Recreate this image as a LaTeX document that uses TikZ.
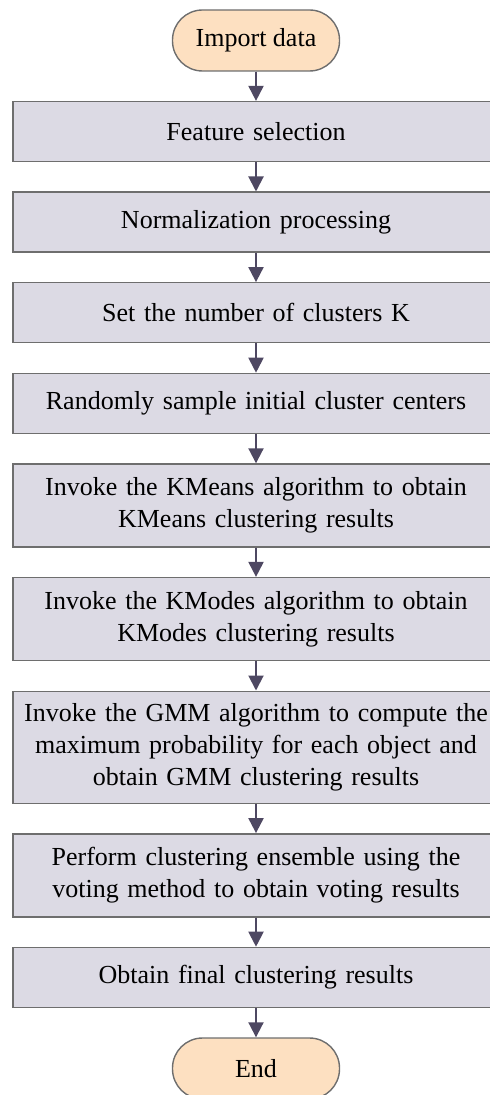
\documentclass[tikz,border=0pt]{standalone}
\usepackage{fontspec}
\setmainfont{Liberation Serif}
\usetikzlibrary{shapes.geometric, arrows.meta, positioning}

\definecolor{boxfill}{HTML}{DCDAE4}
\definecolor{termfill}{HTML}{FDE0C1}
\definecolor{edgegray}{HTML}{6E6E6E}
\definecolor{arrowcol}{HTML}{4E4862}

\begin{document}
\begin{tikzpicture}[node distance=14.6pt, auto,
    >={Triangle[width=7.5pt,length=7.5pt]},
    every node/.style={font=\fontsize{13}{16}\selectfont},
    process/.style={draw=edgegray, line width=0.7pt, fill=boxfill, rectangle,
        text width=240pt, inner xsep=1.5pt, inner ysep=1pt, align=center, minimum height=30pt},
    terminal/.style={draw=edgegray, line width=0.7pt, fill=termfill, rectangle,
        rounded corners=15pt, minimum width=83.5pt, minimum height=30.5pt},
    flow/.style={->, draw=arrowcol, fill=arrowcol, line width=1pt}]
    \useasboundingbox (0,0) rectangle (244.5pt,-547.5pt);

    % Start and main steps
    \node [terminal] (start) at (128pt,-20.25pt) {Import data};
    \node [process, below=of start] (feat) {Feature selection};
    \node [process, below=of feat] (norm) {Normalization processing};
    \node [process, below=of norm] (setk) {Set the number of clusters K};
    \node [process, below=of setk] (init) {Randomly sample initial cluster centers};
    \node [process, below=of init, minimum height=41.5pt] (kmeans)
        {Invoke the KMeans algorithm to obtain\\KMeans clustering results};
    \node [process, below=of kmeans, minimum height=41.5pt] (kmodes)
        {Invoke the KModes algorithm to obtain\\KModes clustering results};
    \node [process, below=of kmodes, minimum height=56pt] (gmm)
        {Invoke the GMM algorithm to compute the\\maximum probability for each object and\\obtain GMM clustering results};
    \node [process, below=of gmm, minimum height=41.5pt] (vote)
        {Perform clustering ensemble using the\\voting method to obtain voting results};
    \node [process, below=of vote] (final) {Obtain final clustering results};
    \node [terminal, below=of final] (stop) {End};

    % Straight flow connections
    \foreach \a/\b in {start/feat, feat/norm, norm/setk, setk/init, init/kmeans,
        kmeans/kmodes, kmodes/gmm, gmm/vote, vote/final, final/stop}
        \draw[flow] (\a) -- (\b);
\end{tikzpicture}
\end{document}
